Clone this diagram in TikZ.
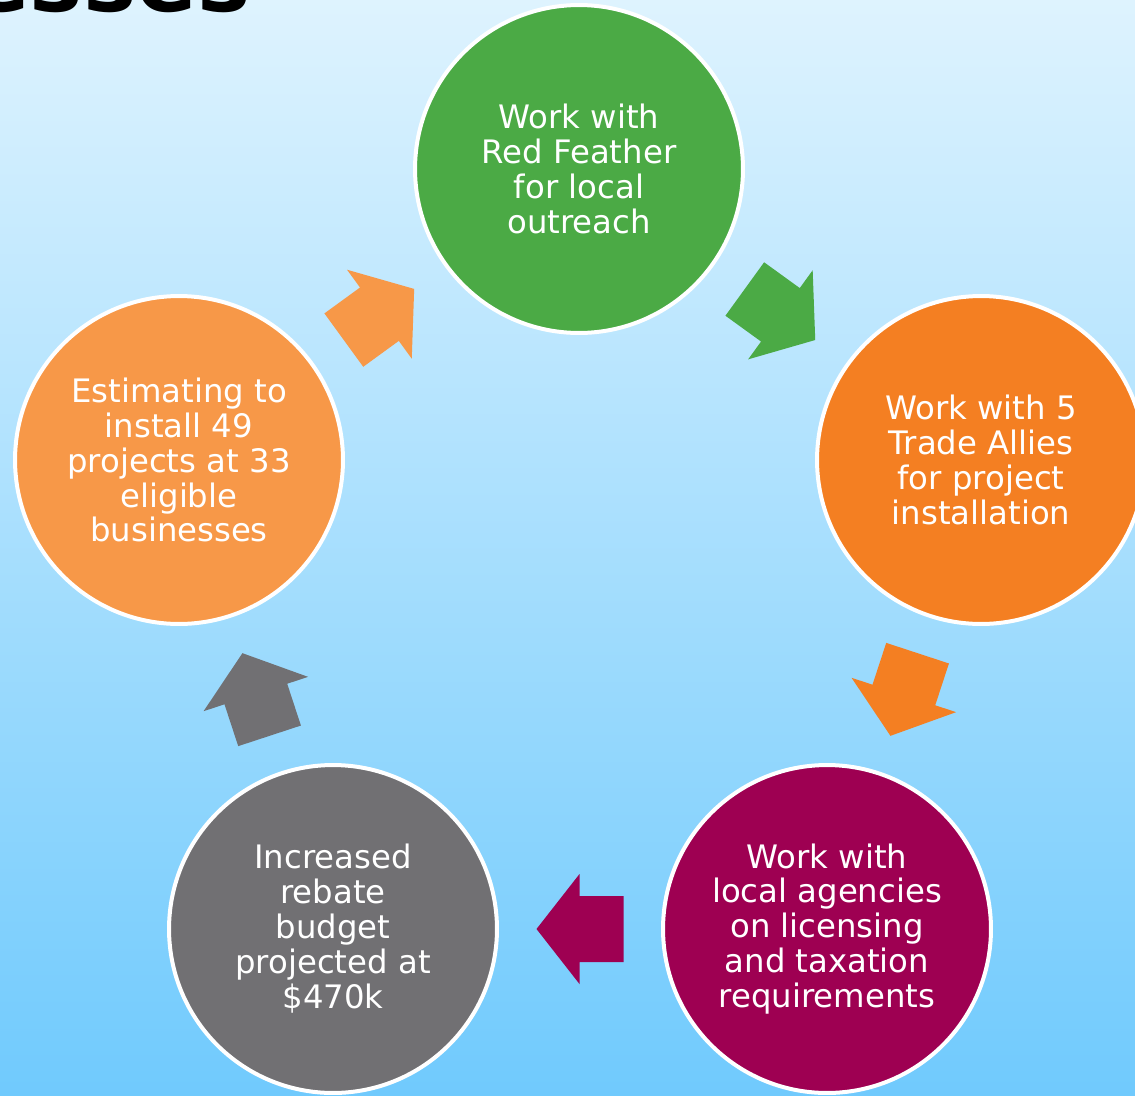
\documentclass[tikz,border=0pt]{standalone}
\usepackage{fontspec}
\setmainfont{DejaVu Sans}
\usetikzlibrary{calc}
\definecolor{bgtop}{RGB}{222,243,254}
\definecolor{bgbottom}{RGB}{112,202,253}
\definecolor{stagegreen}{RGB}{75,170,69}
\definecolor{stageorange}{RGB}{244,127,34}
\definecolor{stagemagenta}{RGB}{158,0,82}
\definecolor{stagegray}{RGB}{113,112,115}
\definecolor{stagelight}{RGB}{247,152,72}

\begin{document}
\begin{tikzpicture}[x=0.02cm, y=-0.02cm,
    stage/.style={circle, draw=white, line width=0.08cm, minimum size=6.56cm,
        inner sep=0pt, text=white, align=center,
        font=\fontsize{18.4pt}{19.9pt}\selectfont},
    blockarrow/.pic={\path[pic actions] (-43.5,-33) -- (0.5,-33) -- (0.5,-55)
        -- (43.5,0) -- (0.5,55) -- (0.5,33) -- (-43.5,33) -- cycle;}
]
\useasboundingbox (0,0) rectangle (1135,1095);

% Background
\shade[top color=bgtop, bottom color=bgbottom] (0,0) rectangle (1135,1095);

% Title (cut off at the top)
\node[font=\fontsize{51pt}{51pt}\selectfont\bfseries, anchor=base east, inner sep=0pt]
    (heading) at (251,12) {esses};

% Stage circles
\node[stage, fill=stagegreen] (outreach) at (579,169) {Work with\\Red Feather\\for local\\outreach};
\node[stage, fill=stageorange] (allies) at (981,460) {Work with 5\\Trade Allies\\for project\\installation};
\node[stage, fill=stagemagenta] (agencies) at (827,929) {Work with\\local agencies\\on licensing\\and taxation\\requirements};
\node[stage, fill=stagegray] (budget) at (333,929) {Increased\\rebate\\budget\\projected at\\\$470k};
\node[stage, fill=stagelight] (estimate) at (179,460) {Estimating to\\install 49\\projects at 33\\eligible\\businesses};

% Block arrows between stages
\foreach \a/\b/\c in {outreach/allies/stagegreen, allies/agencies/stageorange,
    agencies/budget/stagemagenta, budget/estimate/stagegray, estimate/outreach/stagelight}
{
    \path let \p1 = ($(\b)-(\a)$), \n1 = {atan2(\y1,\x1)} in
        ($(\a)!0.5!(\b)$) pic[fill=\c, rotate=\n1] {blockarrow};
}

\end{tikzpicture}
\end{document}
